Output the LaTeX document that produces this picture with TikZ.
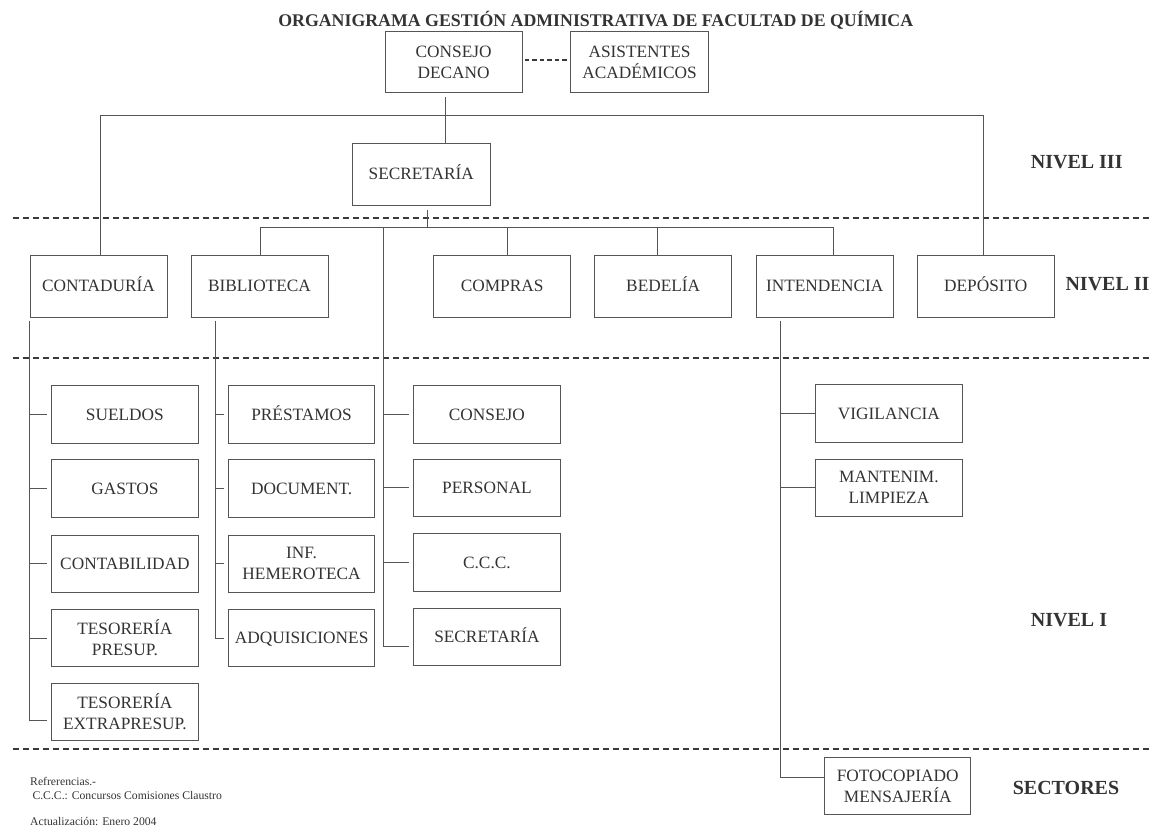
\documentclass[tikz,border=0pt]{standalone}
\usepackage{fontspec}
\setmainfont{Liberation Serif}
\definecolor{boxc}{HTML}{555555}
\definecolor{txtc}{HTML}{333333}
\definecolor{dashc}{HTML}{3A3A3A}
\begin{document}
\begin{tikzpicture}[x=1pt,y=-1pt,
  box/.style={draw=boxc, line width=0.9pt, text=txtc, align=center, inner sep=0pt,
    font=\fontsize{17.3}{21}\selectfont},
  one/.style={text height=11.45pt, text depth=0pt},
  bw/.style={one, minimum width=137pt, minimum height=62pt},
  cw/.style={minimum width=146.3pt, minimum height=57.3pt},
  conn/.style={draw=boxc, line width=0.9pt},
  gap/.style={shorten >=4pt},
  level/.style={text=txtc, font=\bfseries\fontsize{20}{24}\selectfont, inner sep=0pt,
    text height=13.2pt, text depth=0pt},
  sep/.style={draw=dashc, line width=1.8pt, dash pattern=on 6.5pt off 3.5pt},
  note/.style={text=txtc, font=\fontsize{11.7}{14}\selectfont, inner sep=0pt, anchor=base west}
]
\useasboundingbox (0,0) rectangle (1152,827);

% title
\node[text=txtc, font=\bfseries\fontsize{17.8}{21}\selectfont, inner sep=0pt,
  text height=11.8pt, text depth=0pt] (title) at (595.8,20.7)
  {ORGANIGRAMA GESTIÓN ADMINISTRATIVA DE FACULTAD DE QUÍMICA};

% top
\node[box, minimum width=137pt, minimum height=60.6pt] (cd) at (453.6,62) {CONSEJO\\DECANO};
\node[box, minimum width=137.6pt, minimum height=60.6pt] (as) at (639.5,62) {ASISTENTES\\ACADÉMICOS};
\node[box, one, minimum width=137.3pt, minimum height=61.7pt] (sec) at (421.3,174.2) {SECRETARÍA};

% nivel II
\node[box, bw] (cont) at (98.5,286.2) {CONTADURÍA};
\node[box, bw] (bib) at (259.5,286.2) {BIBLIOTECA};
\node[box, bw] (comp) at (502.1,286.2) {COMPRAS};
\node[box, bw] (bed) at (663.2,286.2) {BEDELÍA};
\node[box, bw] (int) at (824.7,286.2) {INTENDENCIA};
\node[box, bw] (dep) at (985.8,286.2) {DEPÓSITO};

% nivel I, column 1
\node[box, cw, one] (sue) at (124.9,414.3) {SUELDOS};
\node[box, cw, one] (gas) at (124.9,488.5) {GASTOS};
\node[box, cw, one] (ctb) at (124.9,563.7) {CONTABILIDAD};
\node[box, cw] (tsp) at (124.9,638) {TESORERÍA\\PRESUP.};
\node[box, cw] (tse) at (124.9,711.7) {TESORERÍA\\EXTRAPRESUP.};
% column 2
\node[box, cw, one] (pre) at (301.6,414.3) {PRÉSTAMOS};
\node[box, cw, one] (doc) at (301.6,488.5) {DOCUMENT.};
\node[box, cw] (hem) at (301.6,563.7) {INF.\\HEMEROTECA};
\node[box, cw, one] (adq) at (301.6,638) {ADQUISICIONES};
% column 3
\node[box, cw, one] (cns) at (486.9,414.3) {CONSEJO};
\node[box, cw, one] (per) at (486.9,487.7) {PERSONAL};
\node[box, cw, one] (ccc) at (486.9,562.5) {C.C.C.};
\node[box, cw, one] (sc2) at (486.9,637) {SECRETARÍA};
% column 4
\node[box, cw, one] (vig) at (888.9,413.4) {VIGILANCIA};
\node[box, cw] (man) at (888.9,487.7) {MANTENIM.\\LIMPIEZA};
\node[box, cw] (fot) at (897.7,786.2) {FOTOCOPIADO\\MENSAJERÍA};

% separators
\draw[sep] (12.7,217.8) -- (1152,217.8);
\draw[sep] (12.7,357.7) -- (1152,357.7);
\draw[sep] (12.7,749.3) -- (1152,749.3);

% level labels
\node[level] (n3) at (1076.7,162) {NIVEL III};
\node[level] (n2) at (1107.5,283.5) {NIVEL II};
\node[level] (n1) at (1069,620) {NIVEL I};
\node[level] (ns) at (1066,788) {SECTORES};

% notes
\node[note] (r1) at (30,785) {Refrerencias.-};
\node[note] (r2) at (32.3,799) {C.C.C.: Concursos Comisiones Claustro};
\node[note] (r3) at (30,825.5) {Actualización: Enero 2004};

% connectors
\draw[draw=dashc, line width=1.6pt, dash pattern=on 4.5pt off 3pt, shorten <=2pt, shorten >=2pt]
  ([yshift=2pt]cd.east) -- ([yshift=2pt]as.west);

\coordinate (b1l) at (100.6,115.7);
\coordinate (b1r) at (983.6,115.7);
\draw[conn] ([xshift=-8.3pt,yshift=-4.5pt]cd.south) -- ([xshift=24pt]sec.north);
\draw[conn] (b1l |- cont.north) -- (b1l) -- (b1r) -- (b1r |- dep.north);

\coordinate (b2l) at (260,227.5);
\coordinate (b2m) at (427.7,227.5);
\coordinate (b2c) at (507.5,227.5);
\coordinate (b2d) at (657.4,227.5);
\coordinate (b2r) at (833.3,227.5);
\coordinate (v3) at (383,227.5);
\draw[conn] ([xshift=6.4pt,yshift=-4pt]sec.south) -- (b2m);
\draw[conn] (b2l |- bib.north) -- (b2l) -- (b2r) -- (b2r |- int.north);
\draw[conn] (b2c) -- (b2c |- comp.north);
\draw[conn] (b2d) -- (b2d |- bed.north);

% column 1
\coordinate (v1) at ([yshift=-3pt]cont.south west);
\draw[conn, gap] (v1) |- ([yshift=-9pt]tse.west);
\foreach \n in {sue,gas,ctb,tsp} \draw[conn, gap] (v1 |- \n.west) -- (\n.west);
% column 2
\coordinate (v2) at ([xshift=24.5pt,yshift=-3pt]bib.south west);
\draw[conn, gap] (v2) |- (adq.west);
\foreach \n in {pre,doc,hem} \draw[conn, gap] (v2 |- \n.west) -- (\n.west);
% column 3
\draw[conn, gap] (v3) |- ([yshift=-9.7pt]sc2.west);
\foreach \n in {cns,per,ccc} \draw[conn, gap] (v3 |- \n.west) -- (\n.west);
% column 4
\coordinate (v4) at ([xshift=24.8pt,yshift=-3pt]int.south west);
\draw[conn] (v4) |- ([yshift=9.2pt]fot.west);
\foreach \n in {vig,man} \draw[conn] (v4 |- \n.west) -- (\n.west);
\end{tikzpicture}
\end{document}
